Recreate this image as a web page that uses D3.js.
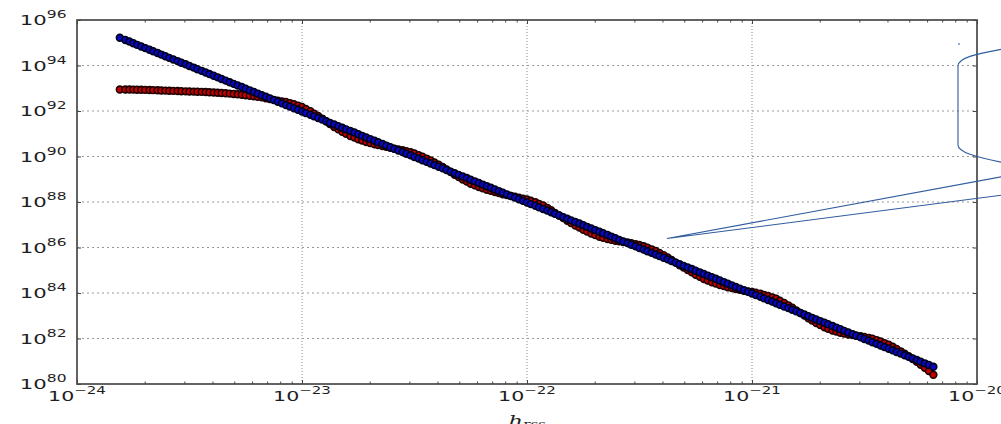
<!DOCTYPE html>
<html>
<head>
<meta charset="utf-8">
<script src="https://cdn.jsdelivr.net/npm/d3@7"></script>
<style>
  html, body { margin: 0; padding: 0; background: #fff; overflow: hidden; }
  svg { display: block; }
</style>
</head>
<body>
<svg id="chart" width="1001" height="424"></svg>
<script>
// h_rss sample points shared by both series
const hRss = [
  1.55e-24, 1.64e-24, 1.71e-24, 1.78e-24, 1.85e-24, 1.93e-24, 2.01e-24, 2.10e-24, 2.18e-24, 2.28e-24, 2.37e-24, 2.47e-24,
  2.57e-24, 2.68e-24, 2.80e-24, 2.91e-24, 3.04e-24, 3.16e-24, 3.30e-24, 3.43e-24, 3.58e-24, 3.73e-24, 3.88e-24, 4.05e-24,
  4.22e-24, 4.39e-24, 4.58e-24, 4.77e-24, 4.97e-24, 5.18e-24, 5.40e-24, 5.62e-24, 5.86e-24, 6.11e-24, 6.36e-24, 6.63e-24,
  6.91e-24, 7.20e-24, 7.50e-24, 7.81e-24, 8.14e-24, 8.48e-24, 8.84e-24, 9.21e-24, 9.60e-24,
  1.00e-23, 1.04e-23, 1.09e-23, 1.13e-23, 1.18e-23, 1.23e-23, 1.28e-23, 1.33e-23, 1.39e-23, 1.45e-23, 1.51e-23, 1.57e-23,
  1.64e-23, 1.71e-23, 1.78e-23, 1.85e-23, 1.93e-23, 2.01e-23, 2.10e-23, 2.18e-23, 2.28e-23, 2.37e-23, 2.47e-23, 2.57e-23,
  2.68e-23, 2.80e-23, 2.91e-23, 3.04e-23, 3.16e-23, 3.30e-23, 3.43e-23, 3.58e-23, 3.73e-23, 3.88e-23, 4.05e-23, 4.22e-23,
  4.39e-23, 4.58e-23, 4.77e-23, 4.97e-23, 5.18e-23, 5.40e-23, 5.62e-23, 5.86e-23, 6.11e-23, 6.36e-23, 6.63e-23, 6.91e-23,
  7.20e-23, 7.50e-23, 7.81e-23, 8.14e-23, 8.48e-23, 8.84e-23, 9.21e-23, 9.60e-23,
  1.00e-22, 1.04e-22, 1.09e-22, 1.13e-22, 1.18e-22, 1.23e-22, 1.28e-22, 1.33e-22, 1.39e-22, 1.45e-22, 1.51e-22, 1.57e-22,
  1.64e-22, 1.71e-22, 1.78e-22, 1.85e-22, 1.93e-22, 2.01e-22, 2.10e-22, 2.18e-22, 2.28e-22, 2.37e-22, 2.47e-22, 2.57e-22,
  2.68e-22, 2.80e-22, 2.91e-22, 3.04e-22, 3.16e-22, 3.30e-22, 3.43e-22, 3.58e-22, 3.73e-22, 3.88e-22, 4.05e-22, 4.22e-22,
  4.39e-22, 4.58e-22, 4.77e-22, 4.97e-22, 5.18e-22, 5.40e-22, 5.62e-22, 5.86e-22, 6.11e-22, 6.36e-22, 6.63e-22, 6.91e-22,
  7.20e-22, 7.50e-22, 7.81e-22, 8.14e-22, 8.48e-22, 8.84e-22, 9.21e-22, 9.60e-22,
  1.00e-21, 1.04e-21, 1.09e-21, 1.13e-21, 1.18e-21, 1.23e-21, 1.28e-21, 1.33e-21, 1.39e-21, 1.45e-21, 1.51e-21, 1.57e-21,
  1.64e-21, 1.71e-21, 1.78e-21, 1.85e-21, 1.93e-21, 2.01e-21, 2.10e-21, 2.18e-21, 2.28e-21, 2.37e-21, 2.47e-21, 2.57e-21,
  2.68e-21, 2.80e-21, 2.91e-21, 3.04e-21, 3.16e-21, 3.30e-21, 3.43e-21, 3.58e-21, 3.73e-21, 3.88e-21, 4.05e-21, 4.22e-21,
  4.39e-21, 4.58e-21, 4.77e-21, 4.97e-21, 5.18e-21, 5.40e-21, 5.62e-21, 5.86e-21, 6.11e-21, 6.40e-21
];

// measured series (red markers)
const redValues = [
  8.81e92, 8.81e92, 8.77e92, 8.73e92, 8.64e92, 8.55e92, 8.46e92, 8.38e92, 8.25e92, 8.13e92, 8.01e92, 7.89e92,
  7.77e92, 7.66e92, 7.53e92, 7.41e92, 7.30e92, 7.19e92, 7.12e92, 7.05e92, 6.94e92, 6.84e92, 6.67e92, 6.50e92,
  6.34e92, 6.18e92, 6.00e92, 5.82e92, 5.62e92, 5.42e92, 5.18e92, 4.95e92, 4.71e92, 4.48e92, 4.21e92, 3.96e92,
  3.65e92, 3.37e92, 3.09e92, 2.84e92, 2.66e92, 2.50e92, 2.23e92, 1.99e92, 1.73e92,
  1.51e92, 1.22e92, 9.80e91, 7.70e91, 6.06e91, 4.64e91, 3.56e91, 2.66e91, 1.99e91, 1.56e91, 1.23e91, 9.92e90,
  8.00e90, 6.78e90, 5.75e90, 5.01e90, 4.36e90, 3.89e90, 3.47e90, 3.18e90, 2.91e90, 2.66e90, 2.44e90, 2.23e90,
  2.04e90, 1.87e90, 1.71e90, 1.53e90, 1.36e90, 1.15e90, 9.80e89, 8.10e89, 6.70e89, 5.41e89, 4.36e89, 3.43e89,
  2.70e89, 2.07e89, 1.58e89, 1.25e89, 9.79e88, 7.90e88, 6.37e88, 5.40e88, 4.58e88, 3.99e88, 3.47e88, 3.10e88,
  2.76e88, 2.47e88, 2.20e88, 2.01e88, 1.84e88, 1.69e88, 1.55e88, 1.41e88,
  1.29e88, 1.13e88, 9.80e87, 8.31e87, 7.05e87, 5.54e87, 4.36e87, 3.34e87, 2.56e87, 1.96e87, 1.51e87, 1.18e87,
  9.31e86, 7.50e86, 6.05e86, 5.01e86, 4.14e86, 3.51e86, 2.98e86, 2.66e86, 2.37e86, 2.17e86, 1.99e86, 1.87e86,
  1.75e86, 1.65e86, 1.55e86, 1.41e86, 1.29e86, 1.13e86, 9.80e85, 8.31e85, 7.05e85, 5.69e85, 4.59e85, 3.61e85,
  2.84e85, 2.17e85, 1.67e85, 1.31e85, 1.03e85, 8.10e84, 6.37e84, 5.14e84, 4.14e84, 3.51e84, 2.98e84, 2.59e84,
  2.26e84, 2.01e84, 1.80e84, 1.64e84, 1.51e84, 1.38e84, 1.26e84, 1.18e84,
  1.11e84, 1.02e84, 9.31e83, 8.31e83, 7.42e83, 6.45e83, 5.62e83, 4.53e83, 3.65e83, 2.87e83, 2.26e83, 1.73e83,
  1.33e83, 1.02e83, 7.80e82, 6.13e82, 4.82e82, 3.89e82, 3.14e82, 2.66e82, 2.26e82, 2.01e82, 1.80e82, 1.64e82,
  1.51e82, 1.41e82, 1.33e82, 1.25e82, 1.17e82, 1.07e82, 9.80e81, 8.52e81, 7.42e81, 6.29e81, 5.34e81, 4.31e81,
  3.47e81, 2.73e81, 2.15e81, 1.65e81, 1.26e81, 9.43e80, 7.05e80, 5.14e80, 3.74e80, 2.53e80
];

// power-law reference series (blue markers)
const blueValues = [
  1.66e95, 1.33e95, 1.13e95,
  9.55e94, 8.10e94, 6.87e94, 5.83e94, 4.95e94, 4.20e94, 3.56e94, 3.02e94, 2.56e94, 2.17e94, 1.84e94, 1.56e94, 1.33e94, 1.13e94,
  9.55e93, 8.10e93, 6.87e93, 5.83e93, 4.95e93, 4.20e93, 3.56e93, 3.02e93, 2.56e93, 2.17e93, 1.84e93, 1.56e93, 1.33e93, 1.13e93,
  9.55e92, 8.10e92, 6.87e92, 5.83e92, 4.95e92, 4.20e92, 3.56e92, 3.02e92, 2.56e92, 2.17e92, 1.84e92, 1.56e92, 1.33e92, 1.13e92,
  9.55e91, 8.10e91, 6.87e91, 5.83e91, 4.95e91, 4.20e91, 3.56e91, 3.02e91, 2.56e91, 2.17e91, 1.84e91, 1.56e91, 1.33e91, 1.13e91,
  9.55e90, 8.10e90, 6.87e90, 5.83e90, 4.95e90, 4.20e90, 3.56e90, 3.02e90, 2.56e90, 2.17e90, 1.84e90, 1.56e90, 1.33e90, 1.13e90,
  9.55e89, 8.10e89, 6.87e89, 5.83e89, 4.95e89, 4.20e89, 3.56e89, 3.02e89, 2.56e89, 2.17e89, 1.84e89, 1.56e89, 1.33e89, 1.13e89,
  9.55e88, 8.10e88, 6.87e88, 5.83e88, 4.95e88, 4.20e88, 3.56e88, 3.02e88, 2.56e88, 2.17e88, 1.84e88, 1.56e88, 1.33e88, 1.13e88,
  9.55e87, 8.10e87, 6.87e87, 5.83e87, 4.95e87, 4.20e87, 3.56e87, 3.02e87, 2.56e87, 2.17e87, 1.84e87, 1.56e87, 1.33e87, 1.13e87,
  9.55e86, 8.10e86, 6.87e86, 5.83e86, 4.95e86, 4.20e86, 3.56e86, 3.02e86, 2.56e86, 2.17e86, 1.84e86, 1.56e86, 1.33e86, 1.13e86,
  9.55e85, 8.10e85, 6.87e85, 5.83e85, 4.95e85, 4.20e85, 3.56e85, 3.02e85, 2.56e85, 2.17e85, 1.84e85, 1.56e85, 1.33e85, 1.13e85,
  9.55e84, 8.10e84, 6.87e84, 5.83e84, 4.95e84, 4.20e84, 3.56e84, 3.02e84, 2.56e84, 2.17e84, 1.84e84, 1.56e84, 1.33e84, 1.13e84,
  9.55e83, 8.10e83, 6.87e83, 5.83e83, 4.95e83, 4.20e83, 3.56e83, 3.02e83, 2.56e83, 2.17e83, 1.84e83, 1.56e83, 1.33e83, 1.13e83,
  9.55e82, 8.10e82, 6.87e82, 5.83e82, 4.95e82, 4.20e82, 3.56e82, 3.02e82, 2.56e82, 2.17e82, 1.84e82, 1.56e82, 1.33e82, 1.13e82,
  9.55e81, 8.10e81, 6.87e81, 5.83e81, 4.95e81, 4.20e81, 3.56e81, 3.02e81, 2.56e81, 2.17e81, 1.84e81, 1.56e81, 1.33e81, 1.13e81,
  9.55e80, 8.10e80, 6.87e80, 5.69e80
];

const xTicks = [1e-24, 1e-23, 1e-22, 1e-21, 1e-20];
const xTickLabels = ["\u221224", "\u221223", "\u221222", "\u221221", "\u221220"];
const yTicks = [1e80, 1e82, 1e84, 1e86, 1e88, 1e90, 1e92, 1e94, 1e96];
const yTickLabels = ["80", "82", "84", "86", "88", "90", "92", "94", "96"];
const xTitle = "h";
const xTitleSub = "rss";

const svg = d3.select("#chart");
const W = 1001, H = 424;
const plot = { left: 77, right: 977, top: 20, bottom: 384 };

const x = d3.scaleLog().domain([1e-24, 1e-20]).range([plot.left, plot.right]);
const y = d3.scaleLog().domain([1e80, 1e96]).range([plot.bottom, plot.top]);

svg.append("rect").attr("width", W).attr("height", H).attr("fill", "#fff");

// grid
const grid = svg.append("g");
grid.selectAll("line.vx").data(xTicks.slice(1, -1)).join("line")
  .attr("class", "vx")
  .attr("x1", d => x(d)).attr("x2", d => x(d))
  .attr("y1", plot.top).attr("y2", plot.bottom)
  .attr("stroke", "#8c8c8c").attr("stroke-width", 1).attr("stroke-dasharray", "1,2");
grid.selectAll("line.hy").data(yTicks.slice(1, -1)).join("line")
  .attr("class", "hy")
  .attr("x1", plot.left).attr("x2", plot.right)
  .attr("y1", d => y(d)).attr("y2", d => y(d))
  .attr("stroke", "#999").attr("stroke-width", 1).attr("stroke-dasharray", "2,3");

// series markers: dense filled circles with dark edges
function drawSeries(values, fill, edge) {
  svg.append("g").selectAll("circle")
    .data(hRss.map((h, i) => [h, values[i]]))
    .join("circle")
    .attr("cx", d => x(d[0]))
    .attr("cy", d => y(d[1]))
    .attr("r", 3.4)
    .attr("fill", fill)
    .attr("stroke", edge)
    .attr("stroke-width", 1.6);
}
drawSeries(redValues, "#c40000", "#1c0000");
drawSeries(blueValues, "#0808c4", "#000018");

// ticks (inward) on all four sides
const minorX = [];
xTicks.slice(0, -1).forEach(d => { for (let m = 2; m <= 9; m++) minorX.push(d * m); });

function styleAxis(g) {
  g.select(".domain").remove();
  g.selectAll(".tick line").attr("stroke", "#444").attr("stroke-width", 1);
}
svg.append("g").attr("transform", `translate(0,${plot.bottom})`)
  .call(d3.axisBottom(x).tickValues(xTicks).tickSize(-4).tickFormat("")).call(styleAxis);
svg.append("g").attr("transform", `translate(0,${plot.bottom})`)
  .call(d3.axisBottom(x).tickValues(minorX).tickSize(-2.5).tickFormat("")).call(styleAxis);
svg.append("g").attr("transform", `translate(0,${plot.top})`)
  .call(d3.axisTop(x).tickValues(xTicks).tickSize(-4).tickFormat("")).call(styleAxis);
svg.append("g").attr("transform", `translate(0,${plot.top})`)
  .call(d3.axisTop(x).tickValues(minorX).tickSize(-2.5).tickFormat("")).call(styleAxis);
svg.append("g").attr("transform", `translate(${plot.left},0)`)
  .call(d3.axisLeft(y).tickValues(yTicks).tickSize(-4).tickFormat("")).call(styleAxis);
svg.append("g").attr("transform", `translate(${plot.right},0)`)
  .call(d3.axisRight(y).tickValues(yTicks).tickSize(-4).tickFormat("")).call(styleAxis);

// frame
svg.append("rect")
  .attr("x", plot.left).attr("y", plot.top)
  .attr("width", plot.right - plot.left).attr("height", plot.bottom - plot.top)
  .attr("fill", "none").attr("stroke", "#484848").attr("stroke-width", 1.7);

// tick labels: 10 with superscript exponent, drawn wide
const labelFont = "DejaVu Sans";
xTicks.forEach((d, i) => {
  const t = svg.append("text")
    .attr("transform", `translate(${x(d)},401) scale(1.5,1)`)
    .attr("text-anchor", "middle")
    .attr("font-family", labelFont)
    .attr("fill", "#1e1e1e");
  t.append("tspan").attr("font-size", 13.7).text("10");
  t.append("tspan").attr("font-size", 10).attr("dy", -6.7).text(xTickLabels[i]);
});
yTicks.forEach((d, i) => {
  const t = svg.append("text")
    .attr("transform", `translate(66.5,${y(d) + 5}) scale(1.55,1)`)
    .attr("text-anchor", "end")
    .attr("font-family", labelFont)
    .attr("fill", "#1e1e1e");
  t.append("tspan").attr("font-size", 13.7).text("10");
  t.append("tspan").attr("font-size", 10).attr("dy", -6.7).text(yTickLabels[i]);
});

// x-axis title h_rss
const title = svg.append("text")
  .attr("transform", `translate(${x(1e-22)},425.5) scale(1.5,1)`)
  .attr("text-anchor", "middle")
  .attr("font-family", "DejaVu Serif")
  .attr("font-style", "italic")
  .attr("fill", "#1e1e1e");
title.append("tspan").attr("font-size", 15).text(xTitle);
title.append("tspan").attr("font-size", 10).attr("dy", 1.5).text(xTitleSub);

// callout outline with its pointer
const callout = svg.append("g").attr("fill", "none").attr("stroke", "#2f5b9f").attr("stroke-width", 1.1);
callout.append("path")
  .attr("d", "M1003,49 C975,54 958,58 958,66 L958,145 C958,152 975,157 1003,162.5");
callout.append("path")
  .attr("d", "M1003,176.5 L667,238.5 L1003,195");
callout.append("path").attr("d", "M958,44 L960,44");
</script>
</body>
</html>
